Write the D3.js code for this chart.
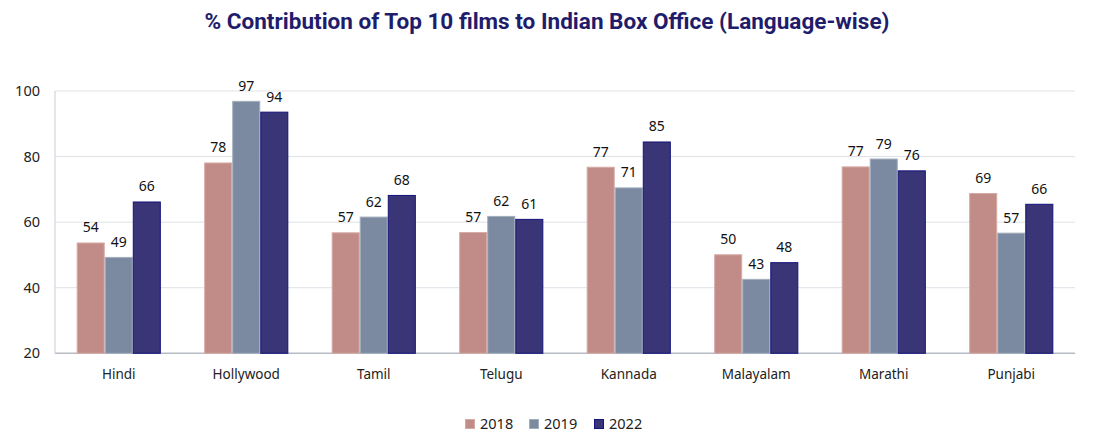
<!DOCTYPE html>
<html><head><meta charset="utf-8">
<script src="https://cdn.jsdelivr.net/npm/d3@7/dist/d3.min.js"></script>
<style>body{margin:0;background:#fff}svg{display:block}</style>
</head><body>
<svg id="c" width="1100" height="442"></svg>
<script>
const categories = ["Hindi","Hollywood","Tamil","Telugu","Kannada","Malayalam","Marathi","Punjabi"];
const seriesNames = ["2018","2019","2022"];
const v2018 = [53.8,78.2,56.9,57.0,76.9,50.2,77.0,68.9];
const v2019 = [49.4,97.0,61.7,61.9,70.6,42.7,79.4,56.8];
const v2022 = [66.3,93.7,68.3,61.0,84.6,47.8,75.8,65.6];
const yTicks = [20,40,60,80,100];
const title = "% Contribution of Top 10 films to Indian Box Office (Language-wise)";

const colors = ["#C18C87","#7B8AA1","#3A3576"];
const strokes = ["#d7aaa5","#a3aebd","#14137a"];
const series = [v2018,v2019,v2022];

const svg = d3.select("#c");
const m = {l:55, r:25};
const W = 1100;
const x0 = d3.scaleBand().domain(categories).range([m.l, W-m.r]).paddingInner(0.34).paddingOuter(0.17);
const x1 = d3.scaleBand().domain(seriesNames).range([0, x0.bandwidth()]);
const y = d3.scaleLinear().domain([20,100]).range([353.3, 91]);

// gridlines
svg.append("g").selectAll("line").data(yTicks).join("line")
  .attr("x1", m.l).attr("x2", W-m.r)
  .attr("y1", d=>y(d)).attr("y2", d=>y(d))
  .attr("stroke", d=> d===20 ? "#b7bcc4" : "#dde1e6").attr("stroke-width", d=>d===20?1.5:1);
// left axis line
svg.append("line").attr("x1", m.l).attr("x2", m.l).attr("y1", y(100)).attr("y2", y(20))
  .attr("stroke","#c9cdd3").attr("stroke-width",1);

// y tick labels
svg.append("g").selectAll("text").data(yTicks).join("text")
  .attr("x", m.l-15).attr("y", d=>y(d)).attr("dy","0.35em")
  .attr("text-anchor","end").attr("font-family","'Noto Sans', sans-serif")
  .attr("font-size",14.5).attr("fill","#222").text(d=>d);

// bars
const g = svg.append("g");
categories.forEach((c,i)=>{
  seriesNames.forEach((s,j)=>{
    const v = series[j][i];
    const bx = x0(c)+x1(s);
    g.append("rect").attr("x", bx+0.5).attr("y", y(v)+0.5)
      .attr("width", x1.bandwidth()-1).attr("height", y(20)-y(v)-0.5)
      .attr("fill", colors[j]).attr("stroke", strokes[j]).attr("stroke-width",1);
    g.append("text").attr("x", bx + x1.bandwidth()/2).attr("y", y(v)-10)
      .attr("text-anchor","middle").attr("font-family","'Noto Sans', sans-serif")
      .attr("font-size",14).attr("fill","#111").text(Math.round(v));
  });
});

// category labels
svg.append("g").selectAll("text").data(categories).join("text")
  .attr("x", d=>x0(d)+x0.bandwidth()/2).attr("y", 379)
  .attr("text-anchor","middle").attr("font-family","'Noto Sans', sans-serif")
  .attr("font-size",13.5).attr("fill","#222").text(d=>d);

// legend
const lg = svg.append("g");
const lx = [465, 529, 594];
seriesNames.forEach((s,j)=>{
  lg.append("rect").attr("x", lx[j]+0.5).attr("y", 419.5).attr("width",9).attr("height",9)
    .attr("fill", colors[j]).attr("stroke", strokes[j]);
  lg.append("text").attr("x", lx[j]+15).attr("y", 424).attr("dy","0.35em")
    .attr("font-family","'Noto Sans', sans-serif").attr("font-size",14.5).attr("fill","#222").text(s);
});

// title
const t = svg.append("text").attr("x", 547).attr("y", 29).attr("text-anchor","middle")
  .attr("font-family","Roboto, sans-serif").attr("font-weight","bold")
  .attr("font-size",22).attr("fill","#1f1d6b").text(title);
const len = t.node().getComputedTextLength();
if (Math.abs(len-685) > 6) t.attr("textLength",685).attr("lengthAdjust","spacingAndGlyphs");
</script>
</body></html>
